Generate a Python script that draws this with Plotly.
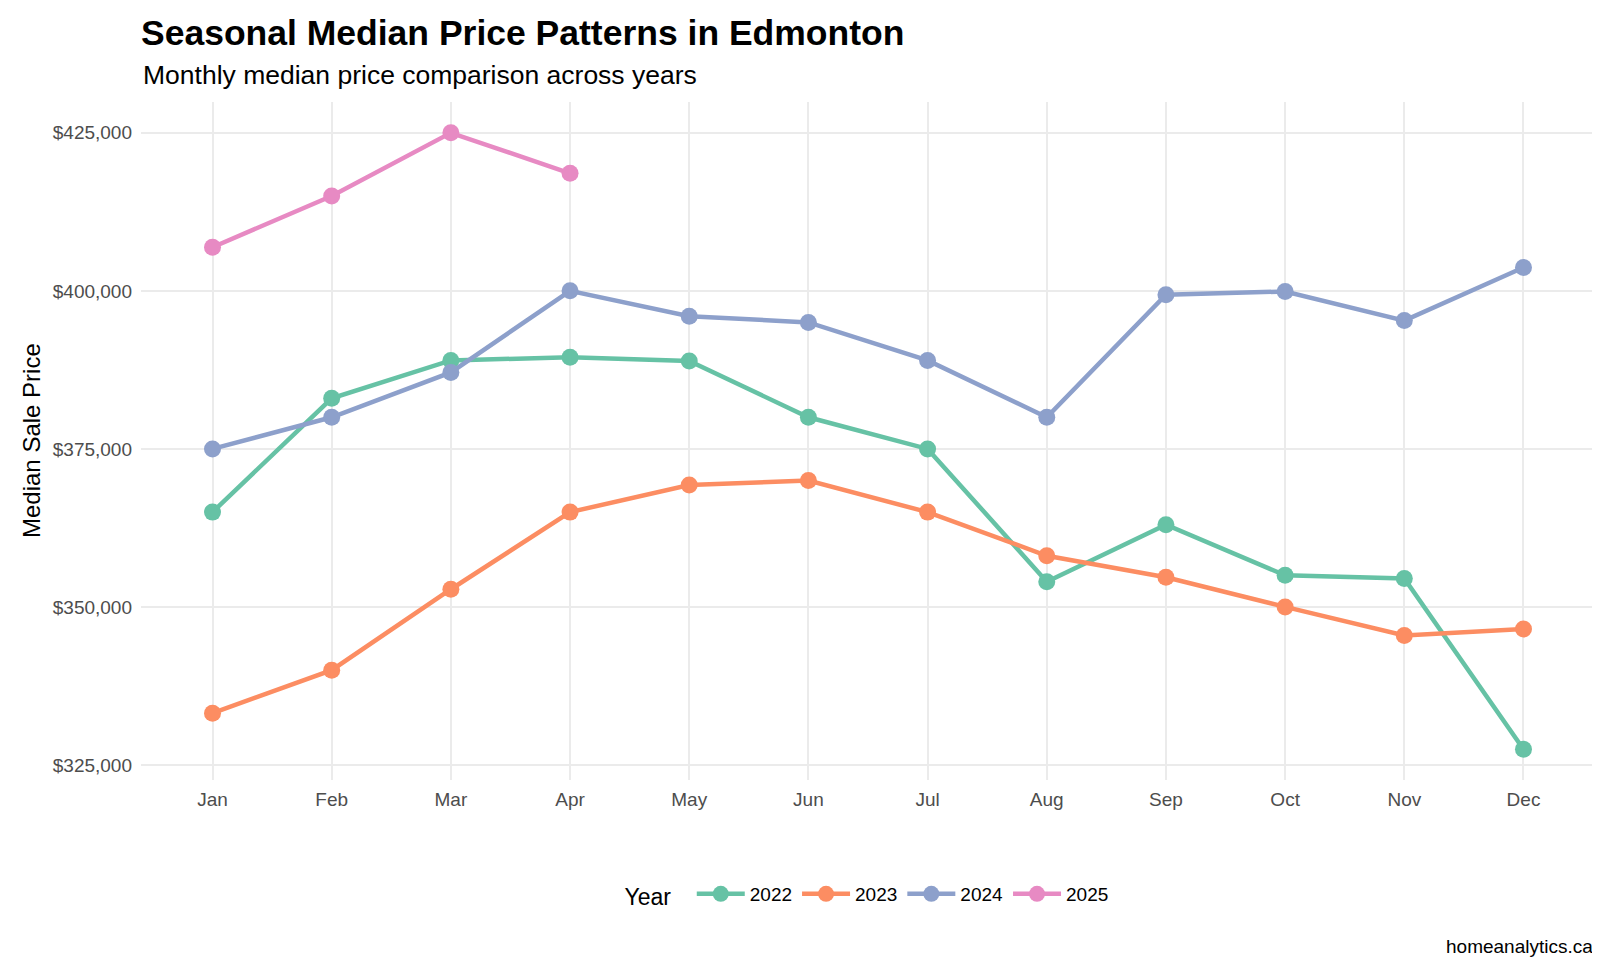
import plotly.graph_objects as go

months = ["Jan", "Feb", "Mar", "Apr", "May", "Jun", "Jul", "Aug", "Sep", "Oct", "Nov", "Dec"]

price_2022 = [365000, 383000, 389000, 389500, 388900, 380000, 375000, 354000, 363000, 355000, 354500, 327500]
price_2023 = [333200, 340000, 352800, 365000, 369300, 370000, 365000, 358100, 354700, 350000, 345500, 346500]
price_2024 = [375000, 380000, 387100, 400000, 396000, 395000, 389000, 380000, 399400, 399900, 395300, 403700]
price_2025 = [406900, 415000, 425000, 418600]

years = ["2022", "2023", "2024", "2025"]
series = [price_2022, price_2023, price_2024, price_2025]
colors = ["#66C2A5", "#FC8D62", "#8DA0CB", "#E78AC3"]

y_ticks = [325000, 350000, 375000, 400000, 425000]

fig = go.Figure()

for year, vals, col in zip(years, series, colors):
    fig.add_trace(go.Scatter(
        x=months[:len(vals)],
        y=vals,
        mode="lines+markers",
        name=year,
        line=dict(color=col, width=4.5),
        marker=dict(color=col, size=17),
    ))

# plot panel spans x 133..1587, y 94..772 of the 1600x960 canvas
fig.update_layout(
    width=1600,
    height=960,
    paper_bgcolor="white",
    plot_bgcolor="white",
    font=dict(family="Liberation Sans, Arial, sans-serif", color="#000000"),
    margin=dict(l=133, r=13, t=94, b=188),
    title=dict(
        text="<b>Seasonal Median Price Patterns in Edmonton</b>",
        x=0, xanchor="left", xref="paper",
        y=1 - 25 / 960, yanchor="middle",
        font=dict(size=35.5, color="#000000"),
    ),
    xaxis=dict(
        type="category",
        categoryorder="array",
        categoryarray=months,
        range=[-0.6, 11.6],
        showgrid=True,
        gridcolor="#EBEBEB",
        gridwidth=2,
        zeroline=False,
        showline=False,
        ticks="",
        ticklabelstandoff=6,
        automargin=False,
        tickfont=dict(size=19, color="#4D4D4D"),
    ),
    yaxis=dict(
        range=[322625, 429875],
        tickvals=y_ticks,
        ticktext=["${:,}".format(v) for v in y_ticks],
        showgrid=True,
        gridcolor="#EBEBEB",
        gridwidth=2,
        zeroline=False,
        showline=False,
        ticks="",
        ticklabelstandoff=8,
        automargin=False,
        tickfont=dict(size=19, color="#4D4D4D"),
    ),
    showlegend=True,
    legend=dict(
        orientation="h",
        x=0.5, xanchor="center",
        y=-0.1696, yanchor="middle",
        title=dict(text="Year  ", font=dict(size=23, color="#000000")),
        font=dict(size=19, color="#000000"),
        itemwidth=48,
    ),
)

fig.add_annotation(
    text="Median Sale Price",
    textangle=-90,
    xref="paper", yref="paper",
    x=(23 - 133) / 1454, xanchor="center",
    y=0.5, yanchor="middle",
    showarrow=False,
    font=dict(size=24, color="#000000"),
)

fig.add_annotation(
    text="Monthly median price comparison across years",
    xref="paper", yref="paper",
    x=0, xanchor="left",
    y=1 + (94 - 67) / 678, yanchor="middle",
    showarrow=False,
    font=dict(size=26.5, color="#000000"),
)

fig.add_annotation(
    text="homeanalytics.ca",
    xref="paper", yref="paper",
    x=1, xanchor="right",
    y=-(938 - 772) / 678, yanchor="middle",
    showarrow=False,
    font=dict(size=19, color="#000000"),
)

fig.write_html("out.html")
